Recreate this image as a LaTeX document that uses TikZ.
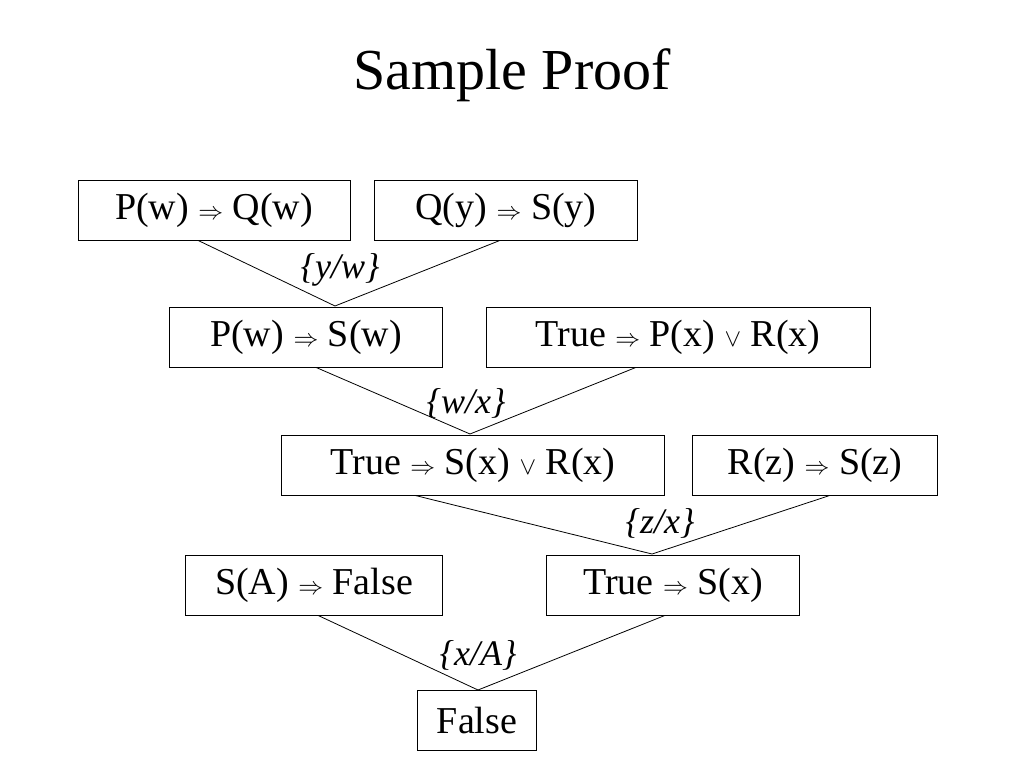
\documentclass[tikz,border=0pt]{standalone}
\usepackage{fontspec}
\setmainfont{Liberation Serif}
\begin{document}
\begin{tikzpicture}[x=1pt,y=-1pt,
  bx/.style={draw,line width=0.8pt,minimum height=60pt,inner sep=0pt,font=\fontsize{38}{40}\selectfont},
  lbl/.style={font=\fontsize{36}{38}\selectfont\itshape},
  ln/.style={line width=0.8pt}]
\useasboundingbox (0,0) rectangle (1024,768);
\node[font=\fontsize{58}{60}\selectfont] (title) at (512,75) {Sample Proof};
\node[bx,minimum width=272pt] (b1) at (214,210) {P(w) $\Rightarrow$ Q(w)};
\node[bx,minimum width=263pt] (b2) at (506,210) {Q(y) $\Rightarrow$ S(y)};
\node[bx,minimum width=273pt] (b3) at (306,337) {P(w) $\Rightarrow$ S(w)};
\node[bx,minimum width=384pt] (b4) at (678,337) {True $\Rightarrow$ P(x) $\vee$ R(x)};
\node[bx,minimum width=383pt] (b5) at (473,465) {True $\Rightarrow$ S(x) $\vee$ R(x)};
\node[bx,minimum width=245pt] (b6) at (815,465) {R(z) $\Rightarrow$ S(z)};
\node[bx,minimum width=257pt] (b7) at (314,585) {S(A) $\Rightarrow$ False};
\node[bx,minimum width=253pt] (b8) at (673,585) {True $\Rightarrow$ S(x)};
\node[bx,minimum width=119pt] (b9) at (477,720) {False};
\coordinate (m1) at (335,306);
\coordinate (m2) at (470,434);
\coordinate (m3) at (652,554);
\coordinate (m4) at (478,690);
\draw[ln] (b1.south -| 198,0) -- (m1) -- (b2.south -| 500,0);
\draw[ln] (b3.south -| 316,0) -- (m2) -- (b4.south -| 636,0);
\draw[ln] (b5.south -| 415,0) -- (m3) -- (b6.south -| 830,0);
\draw[ln] (b7.south -| 318,0) -- (m4) -- (b8.south -| 665,0);
\node[lbl] (l1) at (340,270) {\{y/w\}};
\node[lbl] (l2) at (466,403) {\{w/x\}};
\node[lbl] (l3) at (660,523) {\{z/x\}};
\node[lbl] (l4) at (478,655) {\{x/A\}};
\end{tikzpicture}
\end{document}
